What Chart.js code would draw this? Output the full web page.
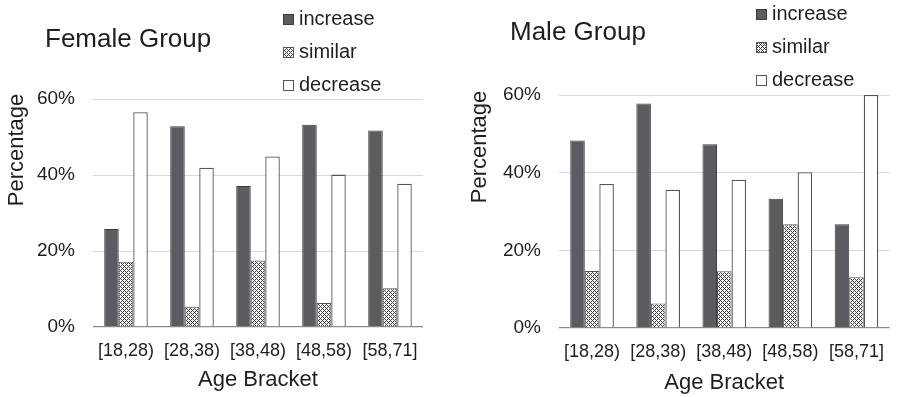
<!DOCTYPE html>
<html>
<head>
<meta charset="utf-8">
<script src="https://cdn.jsdelivr.net/npm/chart.js@4.4.0/dist/chart.umd.min.js"></script>
<style>
  html, body { margin: 0; padding: 0; background: #fff; overflow: hidden; }
  #wrap { position: relative; width: 897px; height: 397px; }
  canvas { position: absolute; top: 0; }
</style>
</head>
<body>
<div id="wrap">
  <canvas id="female" width="450" height="397" style="left:0"></canvas>
  <canvas id="male" width="447" height="397" style="left:450px"></canvas>
</div>
<script>
// Age bracket survey: share of answers per bracket, two panels
const CATEGORIES = ['[18,28)', '[28,38)', '[38,48)', '[48,58)', '[58,71]'];
const SERIES_LABELS = ['increase', 'similar', 'decrease'];
const Y_TICKS = [0, 20, 40, 60];

const FEMALE_INCREASE = [25.8, 52.8, 37.1, 53.2, 51.7];
const FEMALE_SIMILAR = [17.2, 5.3, 17.5, 6.3, 10.2];
const FEMALE_DECREASE = [56.5, 41.9, 44.9, 40.1, 37.7];

const MALE_INCREASE = [48.3, 57.8, 47.3, 33.3, 26.7];
const MALE_SIMILAR = [14.7, 6.3, 14.6, 26.7, 13.1];
const MALE_DECREASE = [37.1, 35.6, 38.2, 40.1, 60.0];

const FONT = "'Liberation Sans', Arial, sans-serif";
const TEXT = '#1e1e1e';

function makeHatch() {
  const tile = document.createElement('canvas');
  tile.width = 4;
  tile.height = 4;
  const g = tile.getContext('2d');
  g.fillStyle = '#3a3a3a';
  g.fillRect(0, 0, 4, 4);
  g.fillStyle = '#ffffff';
  // two small white crosses per tile
  [[2, 1], [1, 2], [2, 2], [3, 2], [2, 3], [0, 0], [1, 0], [3, 0], [0, 1], [0, 3]]
    .forEach(([x, y]) => g.fillRect(x, y, 1, 1));
  return g.createPattern(tile, 'repeat');
}
const hatch = makeHatch();

// draws the panel title, the stacked legend and the rotated y title
const headerPlugin = {
  id: 'header',
  afterDraw(chart, args, opts) {
    const ctx = chart.ctx;
    ctx.save();
    ctx.fillStyle = TEXT;
    ctx.textBaseline = 'middle';
    ctx.textAlign = 'left';
    ctx.font = `26px ${FONT}`;
    ctx.fillText(opts.title, opts.titleX, opts.titleY);

    ctx.font = `20px ${FONT}`;
    chart.data.datasets.forEach((ds, i) => {
      const y = opts.legendY + i * opts.legendGap;
      const x = opts.legendX;
      ctx.fillStyle = ds.backgroundColor;
      ctx.fillRect(x, y - 5, 11, 11);
      ctx.strokeStyle = ds.borderColor;
      ctx.lineWidth = 1;
      ctx.strokeRect(x + 0.5, y - 4.5, 10, 10);
      ctx.fillStyle = TEXT;
      ctx.fillText(ds.label, x + 16, y);
    });

    ctx.translate(opts.yTitleX, opts.yTitleY);
    ctx.rotate(-Math.PI / 2);
    ctx.textAlign = 'center';
    ctx.font = `22px ${FONT}`;
    ctx.fillText('Percentage', 0, 0);
    ctx.restore();
  }
};

function buildPanel(canvas, values, layout) {
  const [inc, sim, dec] = values;
  return new Chart(canvas, {
    type: 'bar',
    data: {
      labels: CATEGORIES,
      datasets: [
        { label: SERIES_LABELS[0], data: inc, backgroundColor: '#5b5c5f', borderColor: '#3c3c3c', borderWidth: 1 },
        { label: SERIES_LABELS[1], data: sim, backgroundColor: hatch, borderColor: '#555555', borderWidth: 1 },
        { label: SERIES_LABELS[2], data: dec, backgroundColor: '#ffffff', borderColor: '#555555', borderWidth: 1.3 }
      ]
    },
    plugins: [headerPlugin],
    options: {
      responsive: false,
      animation: false,
      devicePixelRatio: 1,
      layout: { padding: { top: layout.top, right: layout.right, left: 0, bottom: 0 } },
      datasets: { bar: { barPercentage: 1, categoryPercentage: 0.66 } },
      scales: {
        x: {
          afterFit: (s) => { s.height = 397 - layout.bottom; },
          grid: { display: false, drawTicks: false },
          border: { display: false },
          ticks: { color: TEXT, padding: 13, font: { family: FONT, size: 18 }, maxRotation: 0 },
          title: {
            display: true, text: 'Age Bracket', color: TEXT,
            font: { family: FONT, size: 22 }, padding: { top: 0, bottom: layout.xTitlePad }
          }
        },
        y: {
          min: 0,
          max: 60,
          afterFit: (s) => { s.width = layout.left; },
          afterBuildTicks: (s) => { s.ticks = Y_TICKS.map(v => ({ value: v })); },
          grid: {
            drawTicks: false,
            color: (c) => (c.tick && c.tick.value === 0 ? '#8a8a8a' : '#d9d9d9'),
            lineWidth: (c) => (c.tick && c.tick.value === 0 ? 1.3 : 1)
          },
          border: { display: false },
          ticks: { color: TEXT, padding: 18, font: { family: FONT, size: 19 }, callback: v => v + '%' }
        }
      },
      plugins: {
        legend: { display: false },
        tooltip: { enabled: false },
        header: layout.header
      }
    }
  });
}

buildPanel(document.getElementById('female'),
  [FEMALE_INCREASE, FEMALE_SIMILAR, FEMALE_DECREASE],
  {
    top: 99, right: 27, left: 93, bottom: 327, xTitlePad: 4,
    header: { title: 'Female Group', titleX: 45, titleY: 40, legendX: 283, legendY: 19, legendGap: 33, yTitleX: 17, yTitleY: 150 }
  });

buildPanel(document.getElementById('male'),
  [MALE_INCREASE, MALE_SIMILAR, MALE_DECREASE],
  {
    top: 95, right: 0, left: 109, bottom: 328, xTitlePad: 1,
    header: { title: 'Male Group', titleX: 60, titleY: 33, legendX: 306, legendY: 14, legendGap: 33, yTitleX: 30, yTitleY: 147 }
  });
</script>
</body>
</html>
